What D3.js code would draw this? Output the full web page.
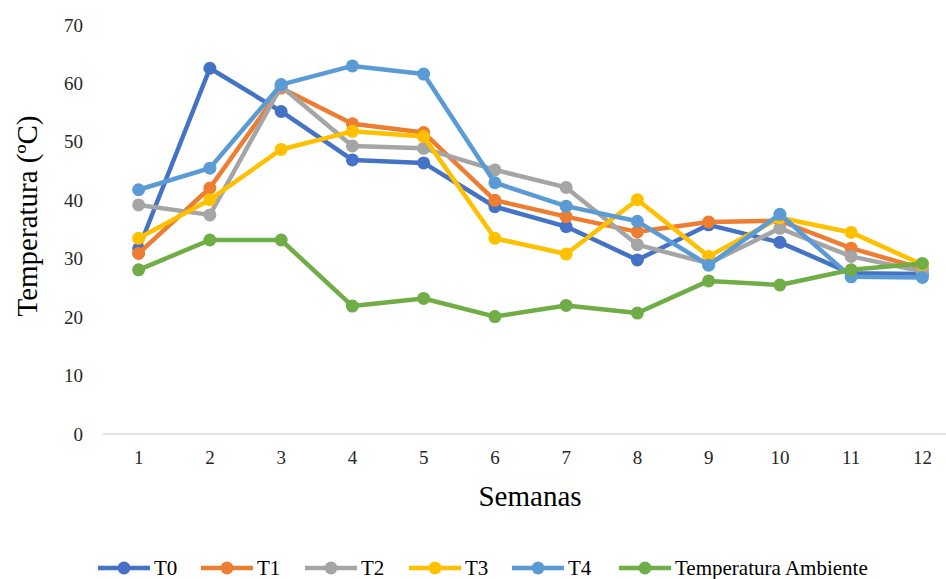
<!DOCTYPE html>
<html>
<head>
<meta charset="utf-8">
<script src="https://cdn.jsdelivr.net/npm/d3@7/dist/d3.min.js"></script>
<style>
  html, body { margin: 0; padding: 0; background: #fff; }
  svg, svg text { font-family: "Liberation Serif", "Times New Roman", serif !important; }
  svg { display: block; }
</style>
</head>
<body>
<svg id="chart" width="946" height="579"></svg>
<script>
// Weekly temperatures (ºC) per treatment and ambient
const weeks = [1, 2, 3, 4, 5, 6, 7, 8, 9, 10, 11, 12];
const seriesNames = ["T0", "T1", "T2", "T3", "T4", "Temperatura Ambiente"];
const seriesColors = ["#4472C4", "#ED7D31", "#A5A5A5", "#FFC000", "#5B9BD5", "#70AD47"];
const t0 = [31.7, 62.6, 55.2, 46.9, 46.4, 38.9, 35.5, 29.8, 35.8, 32.8, 27.5, 27.4];
const t1 = [30.9, 42.1, 59.2, 53.1, 51.6, 40.0, 37.2, 34.6, 36.3, 36.5, 31.8, 28.3];
const t2 = [39.2, 37.5, 59.5, 49.3, 48.9, 45.2, 42.2, 32.4, 29.2, 35.2, 30.4, 27.8];
const t3 = [33.5, 40.1, 48.7, 51.8, 50.9, 33.5, 30.8, 40.1, 30.4, 37.0, 34.5, 29.0];
const t4 = [41.8, 45.5, 59.8, 63.0, 61.6, 43.0, 39.0, 36.4, 28.9, 37.6, 26.9, 26.8];
const ambient = [28.1, 33.2, 33.2, 21.9, 23.2, 20.1, 22.0, 20.7, 26.2, 25.5, 28.1, 29.2];
const yTicks = [0, 10, 20, 30, 40, 50, 60, 70];

const seriesValues = [t0, t1, t2, t3, t4, ambient];
const series = seriesNames.map((name, i) => ({
  name, color: seriesColors[i],
  points: weeks.map((w, j) => ({ week: w, value: seriesValues[i][j] }))
}));

const svg = d3.select("#chart");
const serif = '"Liberation Serif", "Times New Roman", serif';

const x = d3.scaleBand().domain(weeks).range([103, 958]);
const y = d3.scaleLinear().domain([0, 70]).range([434, 25]);
const cx = d => x(d) + x.bandwidth() / 2;

// Category axis baseline and labels
svg.append("line")
  .attr("x1", 103).attr("x2", 958)
  .attr("y1", y(0)).attr("y2", y(0))
  .attr("stroke", "#d9d9d9").attr("stroke-width", 1.5);

const xAxis = svg.append("g")
  .attr("transform", `translate(0,${y(0)})`)
  .call(d3.axisBottom(x).tickSize(0).tickPadding(17));
xAxis.attr("font-family", null);
xAxis.select(".domain").remove();
xAxis.selectAll("text")
  .style("font-family", serif)
  .style("font-size", "19px").attr("fill", "#262626");

const yAxis = svg.append("g")
  .attr("transform", "translate(83,0)")
  .call(d3.axisLeft(y).tickValues(yTicks).tickSize(0).tickPadding(0));
yAxis.attr("font-family", null);
yAxis.select(".domain").remove();
yAxis.selectAll("text")
  .style("font-family", serif)
  .style("font-size", "19px").attr("fill", "#262626");

// Axis titles
svg.append("text")
  .attr("transform", "translate(37,216) rotate(-90)")
  .attr("text-anchor", "middle")
  .style("font-family", serif)
  .style("font-size", "29px").attr("fill", "#000")
  .text("Temperatura (ºC)");

svg.append("text")
  .attr("x", 530).attr("y", 506)
  .attr("text-anchor", "middle")
  .style("font-family", serif)
  .style("font-size", "29px").attr("fill", "#000")
  .text("Semanas");

// Lines with markers
const line = d3.line().x(d => cx(d.week)).y(d => y(d.value));
const g = svg.append("g");
series.forEach(s => {
  g.append("path")
    .datum(s.points)
    .attr("d", line)
    .attr("fill", "none")
    .attr("stroke", s.color)
    .attr("stroke-width", 4.5)
    .attr("stroke-linejoin", "round")
    .attr("stroke-linecap", "round");
  g.selectAll(null)
    .data(s.points)
    .join("circle")
    .attr("cx", d => cx(d.week))
    .attr("cy", d => y(d.value))
    .attr("r", 6.5)
    .attr("fill", s.color);
});

// Legend
const legendX = [98, 201, 305, 409, 512, 619];
const legend = svg.append("g").attr("transform", "translate(0,568)");
series.forEach((s, i) => {
  const item = legend.append("g").attr("transform", `translate(${legendX[i]},0)`);
  item.append("line").attr("x1", 0).attr("x2", 52).attr("y1", 0).attr("y2", 0)
    .attr("stroke", s.color).attr("stroke-width", 4.5);
  item.append("circle").attr("cx", 26).attr("cy", 0).attr("r", 6.5).attr("fill", s.color);
  item.append("text").attr("x", 56).attr("y", 7)
    .style("font-family", serif)
    .style("font-size", "21px").attr("fill", "#000")
    .text(s.name);
});
</script>
</body>
</html>
